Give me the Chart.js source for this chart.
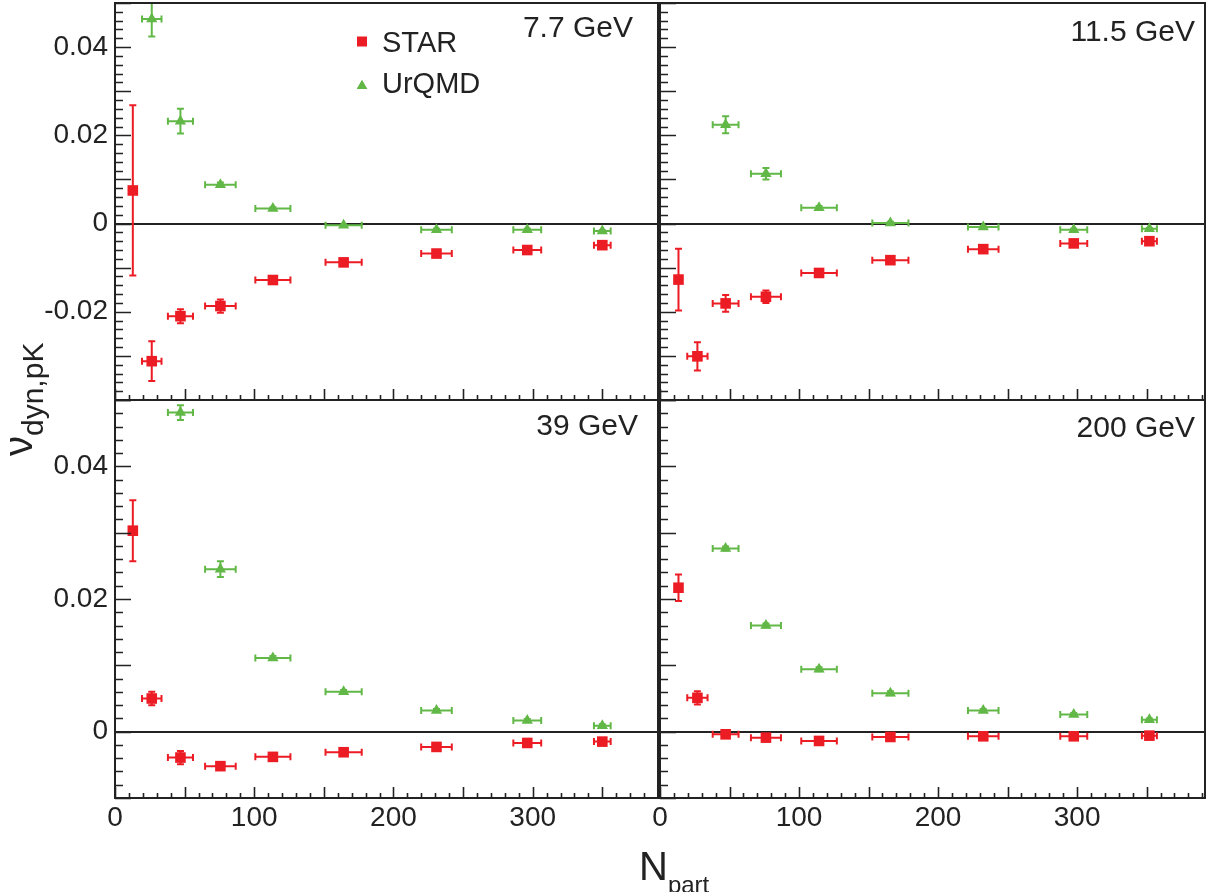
<!DOCTYPE html>
<html>
<head>
<meta charset="utf-8">
<script src="https://cdn.jsdelivr.net/npm/chart.js@4.4.0/dist/chart.umd.min.js"></script>
<style>
body { margin:0; background:#fff; width:1207px; height:892px; overflow:hidden; position:relative;
       font-family:'Liberation Sans', Arial, sans-serif; color:#222; }
canvas { position:absolute; left:0; top:0; }
.ytitle { position:absolute; left:0; top:0; white-space:nowrap; font-size:40px; line-height:1;
          transform-origin:0 0; transform:translate(-2px, 456px) rotate(-90deg); }
.ytitle span { font-size:30px; position:relative; top:11px; }
.xtitle { position:absolute; left:639px; top:846px; white-space:nowrap; font-size:40px; line-height:1; }
.xtitle span { font-size:24px; position:relative; top:13px; }
</style>
</head>
<body>
<canvas id="c77" width="1207" height="892"></canvas>
<canvas id="c115" width="1207" height="892"></canvas>
<canvas id="c39" width="1207" height="892"></canvas>
<canvas id="c200" width="1207" height="892"></canvas>
<div class="ytitle">ν<span>dyn,pK</span></div>
<div class="xtitle">N<span>part</span></div>
<script>
// axis ticks
var xTicks = [0, 100, 200, 300];
var yTicksTop = [-0.02, 0, 0.02, 0.04];
var yTicksBottom = [0, 0.02, 0.04];

// 7.7 GeV
var npart77    = [12.8, 26.4, 47.0, 75.7, 113.4, 164.2, 230.9, 296.1, 350.0];
var npartErr77 = [2, 7, 9, 11, 12.6, 13, 11, 10, 6];
var star77     = [0.0075, -0.0312, -0.0210, -0.0187, -0.0128, -0.0088, -0.0068, -0.0060, -0.0049];
var starErr77  = [0.0193, 0.0045, 0.0016, 0.0015, 0.0004, 0.0004, 0.0004, 0.0003, 0.0003];
var urqmd77    = [null, 0.0464, 0.0232, 0.0088, 0.0034, -0.0004, -0.0014, -0.0014, -0.0017];
var urqmdErr77 = [null, 0.0040, 0.0028, 0.0005, 0.0003, 0.0002, 0.0002, 0.0002, 0.0002];

// 11.5 GeV
var npart115    = [13.3, 26.9, 47.2, 76.2, 114.4, 165.7, 232.5, 297.6, 352.0];
var npartErr115 = [2, 7.3, 9.3, 10.8, 12.8, 13, 11, 9.7, 5.4];
var star115     = [-0.0127, -0.0301, -0.0181, -0.0166, -0.0112, -0.0083, -0.0058, -0.0045, -0.0040];
var starErr115  = [0.0070, 0.0032, 0.0019, 0.0014, 0.0004, 0.0004, 0.0003, 0.0003, 0.0003];
var urqmd115    = [null, null, 0.0224, 0.0113, 0.0036, 0.0001, -0.0008, -0.0014, -0.0012];
var urqmdErr115 = [null, null, 0.0019, 0.0013, 0.0004, 0.0003, 0.0002, 0.0002, 0.0002];

// 39 GeV
var npart39    = [12.8, 26.4, 47.0, 75.7, 113.4, 164.2, 230.9, 296.1, 350.0];
var npartErr39 = [2, 7, 9, 11, 12.6, 13, 11, 10, 6];
var star39     = [0.0303, 0.0050, -0.0039, -0.0052, -0.0038, -0.0031, -0.0023, -0.0017, -0.0015];
var starErr39  = [0.0046, 0.0010, 0.0010, 0.0004, 0.0003, 0.0003, 0.0002, 0.0002, 0.0002];
var urqmd39    = [null, null, 0.0481, 0.0245, 0.0111, 0.0060, 0.0032, 0.0017, 0.0009];
var urqmdErr39 = [null, null, 0.0011, 0.0012, 0.0003, 0.0003, 0.0002, 0.0002, 0.0002];

// 200 GeV
var npart200    = [13.3, 26.9, 47.2, 76.2, 114.4, 165.7, 232.5, 297.6, 352.0];
var npartErr200 = [2, 7.3, 9.3, 10.8, 12.8, 13, 11, 9.7, 5.4];
var star200     = [0.0217, 0.0051, -0.0004, -0.0009, -0.0014, -0.0008, -0.0007, -0.0007, -0.0006];
var starErr200  = [0.0020, 0.0010, 0.0003, 0.0003, 0.0003, 0.0002, 0.0002, 0.0002, 0.0002];
var urqmd200    = [null, null, 0.0276, 0.0160, 0.0094, 0.0058, 0.0032, 0.0026, 0.0018];
var urqmdErr200 = [null, null, 0.0003, 0.0003, 0.0003, 0.0003, 0.0002, 0.0002, 0.0002];

var red = '#ec1c24';
var green = '#62b847';
var ink = '#222';
var fontFam = "'Liberation Sans', Arial, sans-serif";

Chart.defaults.font.family = fontFam;
Chart.defaults.color = ink;

// error bars, frame, inner ticks, labels
var panelPlugin = {
  id: 'panel',
  beforeDatasetsDraw: function(chart) {
    var ctx = chart.ctx, a = chart.chartArea, x = chart.scales.x, y = chart.scales.y;
    ctx.save();
    ctx.beginPath();
    ctx.rect(a.left, a.top, a.right - a.left, a.bottom - a.top);
    ctx.clip();
    ctx.lineWidth = 2;
    chart.data.datasets.forEach(function(ds) {
      ctx.strokeStyle = ds.borderColor;
      ctx.beginPath();
      ds.data.forEach(function(p) {
        var px = x.getPixelForValue(p.x), py = y.getPixelForValue(p.y);
        var x0 = x.getPixelForValue(p.x - p.xe), x1 = x.getPixelForValue(p.x + p.xe);
        ctx.moveTo(x0, py); ctx.lineTo(x1, py);
        ctx.moveTo(x0, py - 3.5); ctx.lineTo(x0, py + 3.5);
        ctx.moveTo(x1, py - 3.5); ctx.lineTo(x1, py + 3.5);
        if (p.ye) {
          var y0 = y.getPixelForValue(p.y - p.ye), y1 = y.getPixelForValue(p.y + p.ye);
          ctx.moveTo(px, y0); ctx.lineTo(px, y1);
          ctx.moveTo(px - 3.5, y0); ctx.lineTo(px + 3.5, y0);
          ctx.moveTo(px - 3.5, y1); ctx.lineTo(px + 3.5, y1);
        }
      });
      ctx.stroke();
    });
    ctx.restore();
  },
  afterDraw: function(chart, args, opts) {
    var ctx = chart.ctx, a = chart.chartArea, x = chart.scales.x, y = chart.scales.y;
    ctx.save();
    ctx.strokeStyle = ink;
    ctx.lineWidth = 2;
    ctx.strokeRect(a.left, a.top, a.right - a.left, a.bottom - a.top);
    ctx.lineWidth = 1.6;
    ctx.beginPath();
    // y ticks every 0.002, long every 0.01
    var k0 = Math.ceil(y.min / 0.002 - 1e-6), k1 = Math.floor(y.max / 0.002 + 1e-6);
    for (var k = k0; k <= k1; k++) {
      var py = Math.round(y.getPixelForValue(k * 0.002)) + 0.5;
      var len = (k % 5 === 0) ? 16 : 8;
      ctx.moveTo(a.left, py); ctx.lineTo(a.left + len, py);
    }
    // x ticks every 10, long every 50
    for (var j = 0; j * 10 <= x.max; j++) {
      var px = Math.round(x.getPixelForValue(j * 10)) + 0.5;
      var l = (j % 5 === 0) ? 11 : 5;
      ctx.moveTo(px, a.bottom); ctx.lineTo(px, a.bottom - l);
    }
    ctx.stroke();

    ctx.fillStyle = ink;
    ctx.font = '30px ' + fontFam;
    ctx.textAlign = 'right';
    ctx.textBaseline = 'alphabetic';
    ctx.fillText(opts.label, a.right - opts.labelRight, a.top + opts.labelBase);

    if (opts.legend) {
      var lx = a.left + 247;
      ctx.fillStyle = red;
      ctx.fillRect(lx - 5, 36.5, 10, 10);
      ctx.fillStyle = green;
      Chart.helpers.drawPoint(ctx, {pointStyle: 'triangle', radius: 6, rotation: 0, borderWidth: 0}, lx, 86);
      ctx.fill();
      ctx.fillStyle = ink;
      ctx.textAlign = 'left';
      ctx.font = '29px ' + fontFam;
      ctx.fillText('STAR', lx + 20, 52);
      ctx.fillText('UrQMD', lx + 20, 93);
    }
    ctx.restore();
  }
};

function points(npart, npartErr, vals, errs) {
  var out = [];
  npart.forEach(function(n, i) {
    if (vals[i] !== null) out.push({x: n, y: vals[i], xe: npartErr[i], ye: errs[i]});
  });
  return out;
}

function makePanel(id, p) {
  var yTicks = p.top ? yTicksTop : yTicksBottom;
  new Chart(document.getElementById(id), {
    type: 'scatter',
    data: {
      datasets: [{
        label: 'UrQMD',
        data: points(p.npart, p.npartErr, p.urqmd, p.urqmdErr),
        pointStyle: 'triangle', pointRadius: 6.5, pointBorderWidth: 0,
        backgroundColor: green, borderColor: green
      }, {
        label: 'STAR',
        data: points(p.npart, p.npartErr, p.star, p.starErr),
        pointStyle: 'rect', pointRadius: 7.5, pointBorderWidth: 0,
        backgroundColor: red, borderColor: red
      }]
    },
    options: {
      responsive: false,
      devicePixelRatio: 1,
      animation: false,
      events: [],
      layout: { padding: p.pad, autoPadding: false },
      plugins: {
        legend: { display: false },
        tooltip: { enabled: false },
        panel: { label: p.label, labelRight: p.labelRight, labelBase: p.labelBase, legend: !!p.legend }
      },
      scales: {
        x: {
          type: 'linear', min: 0, max: p.xmax,
          afterBuildTicks: function(s) { s.ticks = xTicks.map(function(v) { return {value: v}; }); },
          afterFit: function(s) { s.height = p.top ? 0 : 94; s.paddingLeft = 0; s.paddingRight = 0; },
          grid: { display: false },
          border: { display: false },
          ticks: { display: !p.top, padding: -5, font: { size: 28 }, color: ink,
                   callback: function(v) { return String(v); } }
        },
        y: {
          type: 'linear', min: p.top ? -0.04 : -0.01, max: 0.05,
          afterBuildTicks: function(s) { s.ticks = yTicks.map(function(v) { return {value: v}; }); },
          afterFit: function(s) { s.width = p.left ? 115 : 660; s.paddingTop = 0; s.paddingBottom = 0; },
          grid: {
            drawTicks: false,
            color: function(c) { return c.tick && c.tick.value === 0 ? ink : 'rgba(0,0,0,0)'; },
            lineWidth: function(c) { return c.tick && c.tick.value === 0 ? 2 : 0; }
          },
          border: { display: false },
          ticks: { display: p.left, padding: 7, font: { size: 28 }, color: ink,
                   callback: function(v) { return String(v); } }
        }
      }
    },
    plugins: [panelPlugin]
  });
}

makePanel('c77', {
  npart: npart77, npartErr: npartErr77, star: star77, starErr: starErr77, urqmd: urqmd77, urqmdErr: urqmdErr77,
  label: '7.7 GeV', labelRight: 25, labelBase: 34, legend: true,
  top: true, left: true, xmax: 390, pad: {left: 0, top: 3, right: 549, bottom: 492}
});
makePanel('c115', {
  npart: npart115, npartErr: npartErr115, star: star115, starErr: starErr115, urqmd: urqmd115, urqmdErr: urqmdErr115,
  label: '11.5 GeV', labelRight: 10, labelBase: 38,
  top: true, left: false, xmax: 392, pad: {left: 0, top: 3, right: 2, bottom: 492}
});
makePanel('c39', {
  npart: npart39, npartErr: npartErr39, star: star39, starErr: starErr39, urqmd: urqmd39, urqmdErr: urqmdErr39,
  label: '39 GeV', labelRight: 20, labelBase: 35,
  top: false, left: true, xmax: 390, pad: {left: 0, top: 400, right: 549, bottom: 0}
});
makePanel('c200', {
  npart: npart200, npartErr: npartErr200, star: star200, starErr: starErr200, urqmd: urqmd200, urqmdErr: urqmdErr200,
  label: '200 GeV', labelRight: 10, labelBase: 37,
  top: false, left: false, xmax: 392, pad: {left: 0, top: 400, right: 2, bottom: 0}
});
</script>
</body>
</html>
